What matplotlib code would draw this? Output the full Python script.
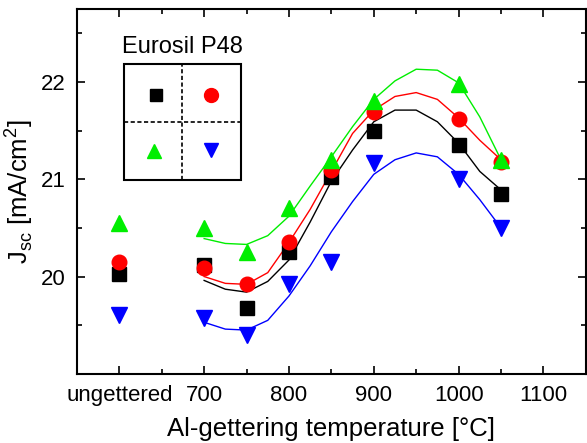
import matplotlib.pyplot as plt
from matplotlib.patches import Rectangle
from matplotlib.ticker import MultipleLocator

plt.rcParams['font.family'] = ['Liberation Sans', 'DejaVu Sans']

# measured points (600 = ungettered)
temps = [600, 700, 750, 800, 850, 900, 1000, 1050]
jsc_black = [20.03, 20.12, 19.68, 20.25, 21.02, 21.50, 21.35, 20.85]
jsc_red = [20.15, 20.09, 19.92, 20.35, 21.09, 21.69, 21.62, 21.18]
jsc_green = [20.55, 20.50, 20.25, 20.70, 21.20, 21.80, 21.98, 21.20]
jsc_blue = [19.61, 19.57, 19.40, 19.92, 20.15, 21.17, 21.00, 20.50]

# fitted curves
fit_t = [700, 725, 750, 775, 800, 825, 850, 875, 900, 925, 950, 975, 1000, 1025, 1050]
fit_black = [19.96, 19.87, 19.84, 19.95, 20.17, 20.56, 20.98, 21.30, 21.59, 21.71, 21.71, 21.59, 21.37, 21.08, 20.89]
fit_red = [20.00, 19.93, 19.92, 20.04, 20.35, 20.69, 21.08, 21.47, 21.71, 21.85, 21.89, 21.82, 21.63, 21.40, 21.20]
fit_green = [20.39, 20.34, 20.33, 20.42, 20.62, 20.93, 21.23, 21.54, 21.82, 22.01, 22.13, 22.12, 21.99, 21.64, 21.20]
fit_blue = [19.53, 19.46, 19.45, 19.55, 19.80, 20.11, 20.46, 20.77, 21.05, 21.20, 21.27, 21.23, 21.05, 20.79, 20.50]

xtick_pos = [600, 700, 800, 900, 1000, 1100]
xtick_labels = ['ungettered', '700', '800', '900', '1000', '1100']

fig = plt.figure(figsize=(5.87, 4.43), dpi=100)
ax = fig.add_axes([0.131, 0.156, 0.867, 0.824])

ax.plot(fit_t, fit_black, color='black', lw=1)
ax.plot(fit_t, fit_red, color='#ff0000', lw=1)
ax.plot(fit_t, fit_green, color='#00ee00', lw=1)
ax.plot(fit_t, fit_blue, color='#0000ff', lw=1)

ax.plot(temps, jsc_black, 's', color='black', ms=9.5, ls='none')
ax.plot(temps, jsc_red, 'o', color='#ff0000', ms=10.5, ls='none')
ax.plot(temps, jsc_green, '^', color='#00ee00', ms=11, ls='none')
ax.plot(temps, jsc_blue, 'v', color='#0000ff', ms=11, ls='none')

ax.set_xlim(550, 1150)
ax.set_ylim(19.0, 22.75)
ax.set_xticks(xtick_pos)
ax.set_xticklabels(xtick_labels)
ax.xaxis.set_minor_locator(MultipleLocator(50))
ax.set_yticks([20, 21, 22])
ax.yaxis.set_minor_locator(MultipleLocator(0.5))
ax.tick_params(which='both', direction='in', top=True, right=True, labelsize=16, width=1.2)
ax.tick_params(which='major', length=6, pad=8)
ax.tick_params(which='minor', length=3.5)
for s in ax.spines.values():
    s.set_linewidth(1.5)

ax.set_xlabel('Al-gettering temperature [°C]', fontsize=18.5, labelpad=8)
ax.set_ylabel('J$_{\\mathregular{sc}}$ [mA/cm$^{\\mathregular{2}}$]', fontsize=18.5, labelpad=4)

# wafer map inset
ax.add_patch(Rectangle((0.092, 0.532), 0.230, 0.317, transform=ax.transAxes,
                       fill=False, lw=1.5, color='black'))
ax.plot([0.207, 0.207], [0.532, 0.849], transform=ax.transAxes, color='black', lw=1.2, ls=(0, (2.5, 1.5)))
ax.plot([0.092, 0.322], [0.690, 0.690], transform=ax.transAxes, color='black', lw=1.2, ls=(0, (2.5, 1.5)))
ax.plot([0.155], [0.765], 's', color='black', ms=9, transform=ax.transAxes)
ax.plot([0.263], [0.765], 'o', color='#ff0000', ms=10, transform=ax.transAxes)
ax.plot([0.151], [0.611], '^', color='#00ee00', ms=10, transform=ax.transAxes)
ax.plot([0.263], [0.614], 'v', color='#0000ff', ms=10, transform=ax.transAxes)
ax.text(0.207, 0.895, 'Eurosil P48', transform=ax.transAxes, ha='center', va='center', fontsize=17)

fig.savefig('out.png', dpi=100)
